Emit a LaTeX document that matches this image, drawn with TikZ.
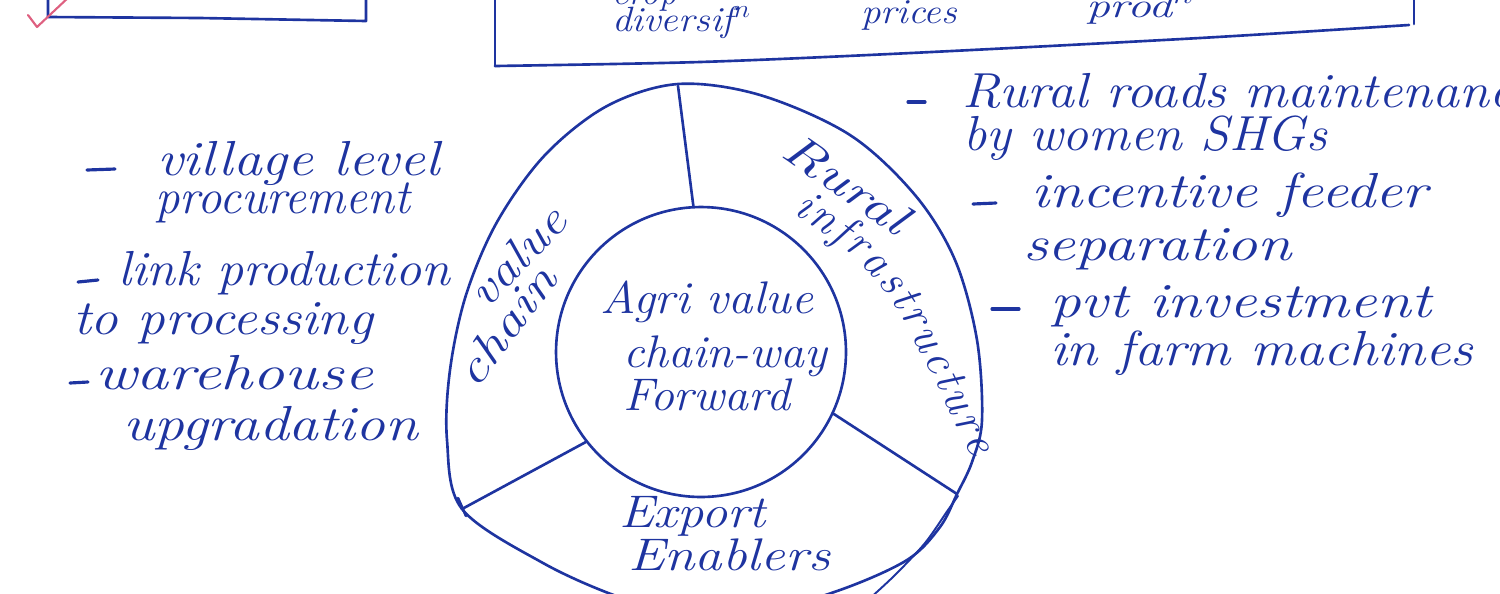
\documentclass[tikz,border=0pt]{standalone}
\usepackage{fontspec}
\usepackage{graphicx}
\usetikzlibrary{decorations.text}
\definecolor{ink}{RGB}{30,52,160}
\definecolor{checkpink}{RGB}{222,96,128}
\newcommand\hw[3]{\resizebox{#1cm}{\height}{\fontsize{#2}{#2}\selectfont\itshape #3}}
\begin{document}
\begin{tikzpicture}[x=0.02cm,y=-0.02cm,line cap=round,line join=round,
 inkline/.style={draw=ink,line width=1.5pt},
 bar/.style={draw=ink,line width=1.8pt},
 txt/.style={text=ink,inner sep=0pt,outer sep=0pt,anchor=base west},
 ctxt/.style={text=ink,inner sep=0pt,outer sep=0pt,anchor=base}]
\useasboundingbox (0,0) rectangle (1500,593);
\begin{scope}
\clip (0,0) rectangle (1500,593);
% top-left box and check
\draw[inkline] (48,-10) -- (48,17) -- (200,18) -- (366,21) -- (366,-10);
\draw[draw=checkpink,line width=1.2pt] (28,15) -- (37,27) -- (70,-4);
% top box
\draw[inkline] (495,-10) -- (495,66);
\draw[inkline] plot[smooth] coordinates {(495,66) (700,62) (911,53) (1200,38) (1409,25)};
\draw[inkline] (1414,-10) -- (1414,24);
\node[txt] (t0) at (612,4) {\hw{1.3}{20}{crop}};
\node[txt] (t1) at (612,31) {\hw{2.78}{20}{diversif$^{n}$}};
\node[txt] (t2) at (861,23) {\hw{1.92}{20}{prices}};
\node[txt] (t3) at (1086,17) {\hw{2.16}{20}{prod$^{n}$}};
% outer shape
\draw[inkline] plot[smooth cycle, tension=0.55] coordinates {(543,563) (462,509) (447,440) (450,370) (466,295) (497,222) (545,155) (607,106) (678,84) (760,95) (850,135) (915,195) (955,260) (977,340) (982,420) (972,462) (957,494) (940,527) (907,560) (840,590) (760,612) (680,612) (619,597)};
\draw[draw=ink,line width=1.1pt] plot[smooth] coordinates {(958,496) (948,510) (925,543) (895,575) (868,600)};
% inner circle
\node[circle,draw=ink,line width=1.5pt,minimum size=5.8cm,inner sep=0pt] (inner) at (701,352) {};
\coordinate (o1) at (678,86);
\coordinate (o2) at (462,509);
\coordinate (o3) at (957,494);
\draw[inkline] (inner.93) -- (o1);
\draw[inkline] (inner.218) -- (o2);
\draw[inkline] (inner.335) -- (o3);
\draw[inkline] (458,498) -- (466,516);
% centre text
\node[txt] (c1) at (600,313) {\hw{4.26}{26}{Agri value}};
\node[txt] (c2) at (623,367) {\hw{4.08}{26}{chain-way}};
\node[txt] (c3) at (623,410) {\hw{3.34}{26}{Forward}};
\node[txt] (e1) at (619,527) {\hw{2.94}{26}{Export}};
\node[txt] (e2) at (628,570) {\hw{4.04}{26}{Enablers}};
\node[ctxt,rotate=46] (v1) at (528,267) {\hw{2.40}{26}{value}};
\node[ctxt,rotate=53] (v2) at (518,335) {\hw{2.76}{26}{chain}};
\node[ctxt,rotate=-35] (ri1) at (838,196) {\hw{2.84}{26}{Rural}};
\path[decorate,decoration={text along path,text color=ink,text={|\fontsize{26}{26}\selectfont\itshape|infrastructure},text align={fit to path}}] (792,212) .. controls (885,275) .. (972,458);
% left list
\draw[bar] (87,170) -- (115,169);
\node[txt] (l1) at (157,175) {\hw{5.66}{28}{village level}};
\node[txt] (l2) at (155,213) {\hw{5.10}{28}{procurement}};
\draw[bar] (78,282) -- (98,280);
\node[txt] (l3) at (118,285) {\hw{6.64}{28}{link production}};
\node[txt] (l4) at (73,334) {\hw{6.00}{28}{to processing}};
\draw[bar] (70,383) -- (88,382);
\node[txt] (l5) at (95,389) {\hw{5.56}{28}{warehouse}};
\node[txt] (l6) at (123,440) {\hw{5.90}{28}{upgradation}};
% right list
\draw[bar] (908,102) -- (925,102);
\node[txt] (r1) at (962,107) {\hw{11.46}{28}{Rural roads maintenance}};
\node[txt] (r2) at (963,150) {\hw{7.28}{28}{by women SHGs}};
\draw[bar] (973,204) -- (996,203);
\node[txt] (r3) at (1031,207) {\hw{7.92}{28}{incentive feeder}};
\node[txt] (r4) at (1023,260) {\hw{5.38}{28}{separation}};
\draw[bar] (992,309) -- (1019,309);
\node[txt] (r5) at (1050,317) {\hw{7.62}{28}{pvt investment}};
\node[txt] (r6) at (1050,365) {\hw{8.46}{28}{in farm machines}};
\end{scope}
\end{tikzpicture}
\end{document}
